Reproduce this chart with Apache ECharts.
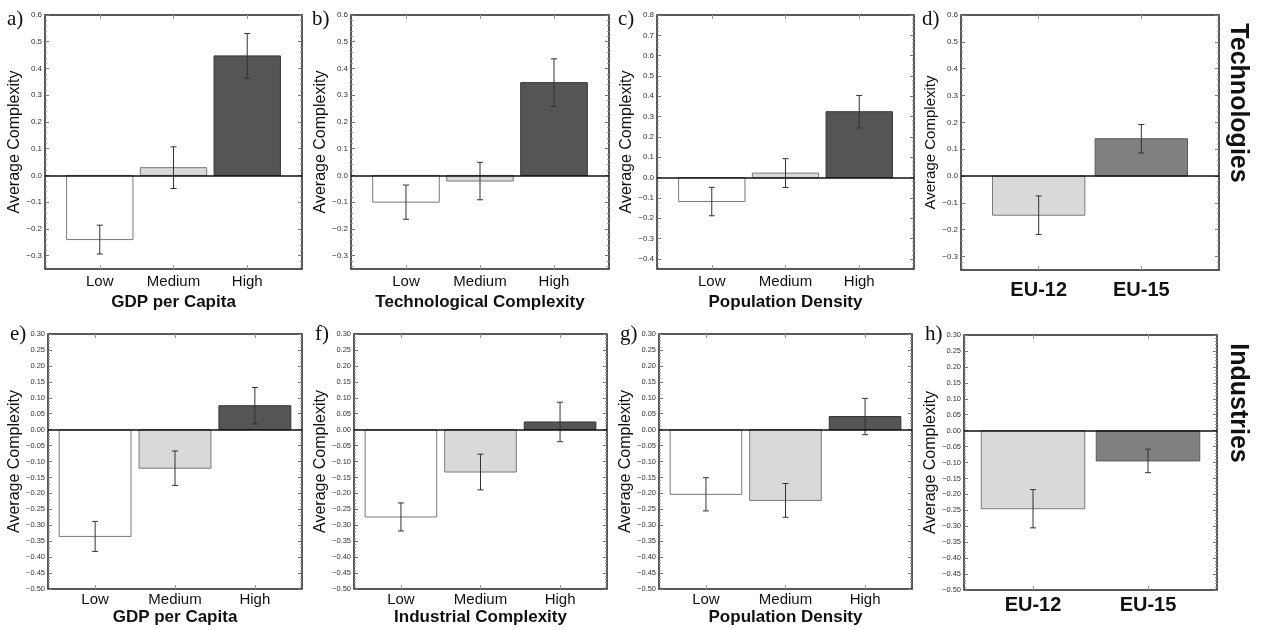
<!DOCTYPE html>
<html>
<head>
<meta charset="utf-8">
<script src="https://cdn.jsdelivr.net/npm/echarts@6/dist/echarts.min.js"></script>
<style>
  html, body { margin: 0; padding: 0; background: #fff; }
  #chart { width: 1262px; height: 630px; }
</style>
</head>
<body>
<div id="chart"></div>
<script>
// categories
var levels = ['Low', 'Medium', 'High'];
var regions = ['EU-12', 'EU-15'];

// technologies (top row): mean and error half-width
var techGdp = [-0.240, 0.029, 0.447];
var techGdpErr = [0.054, 0.078, 0.084];
var techComplexity = [-0.100, -0.021, 0.347];
var techComplexityErr = [0.064, 0.070, 0.089];
var techDensity = [-0.118, 0.022, 0.324];
var techDensityErr = [0.070, 0.071, 0.080];
var techRegion = [-0.146, 0.139];
var techRegionErr = [0.072, 0.053];

// industries (bottom row)
var indGdp = [-0.335, -0.121, 0.075];
var indGdpErr = [0.047, 0.054, 0.057];
var indComplexity = [-0.274, -0.133, 0.024];
var indComplexityErr = [0.044, 0.056, 0.062];
var indDensity = [-0.203, -0.222, 0.041];
var indDensityErr = [0.052, 0.053, 0.057];
var indRegion = [-0.245, -0.095];
var indRegionErr = [0.060, 0.037];

// y tick labels
var techTicks = [-0.3, -0.2, -0.1, 0, 0.1, 0.2, 0.3, 0.4, 0.5, 0.6];
var densityTicks = [-0.4, -0.3, -0.2, -0.1, 0, 0.1, 0.2, 0.3, 0.4, 0.5, 0.6, 0.7, 0.8];
var indTicks = [-0.5, -0.45, -0.4, -0.35, -0.3, -0.25, -0.2, -0.15, -0.1, -0.05,
                0, 0.05, 0.1, 0.15, 0.2, 0.25, 0.3];

var FONT = 'Liberation Sans, Arial, sans-serif';
var BAR_WIDTH = 0.9;
var CAP = 3;
var levelFills = ['#ffffff', '#d9d9d9', '#555555'];
var levelStrokes = ['#7a7a7a', '#7a7a7a', '#333333'];
var regionFills = ['#d9d9d9', '#808080'];
var regionStrokes = ['#7a7a7a', '#5a5a5a'];

var panels = [
  {tag: 'a)', cats: levels, vals: techGdp, errs: techGdpErr, title: 'GDP per Capita',
   box: [45, 15, 257, 254], x: [-0.743, 2.743], y: [-0.35, 0.6], ticks: techTicks, dec: 1, minor: 0.02, row: 0},
  {tag: 'b)', cats: levels, vals: techComplexity, errs: techComplexityErr, title: 'Technological Complexity',
   box: [351, 15, 258, 254], x: [-0.743, 2.743], y: [-0.35, 0.6], ticks: techTicks, dec: 1, minor: 0.02, row: 0},
  {tag: 'c)', cats: levels, vals: techDensity, errs: techDensityErr, title: 'Population Density',
   box: [657, 15, 257, 254], x: [-0.743, 2.743], y: [-0.45, 0.8], ticks: densityTicks, dec: 1, minor: 0.02, row: 0},
  {tag: 'd)', cats: regions, vals: techRegion, errs: techRegionErr, title: '',
   box: [961, 15, 258, 255], x: [-0.757, 1.757], y: [-0.35, 0.6], ticks: techTicks, dec: 1, minor: 0.02, row: 0},
  {tag: 'e)', cats: levels, vals: indGdp, errs: indGdpErr, title: 'GDP per Capita',
   box: [48, 334, 254, 255], x: [-0.59, 2.59], y: [-0.5, 0.3], ticks: indTicks, dec: 2, minor: 0.01, row: 1},
  {tag: 'f)', cats: levels, vals: indComplexity, errs: indComplexityErr, title: 'Industrial Complexity',
   box: [354, 334, 253, 255], x: [-0.59, 2.59], y: [-0.5, 0.3], ticks: indTicks, dec: 2, minor: 0.01, row: 1},
  {tag: 'g)', cats: levels, vals: indDensity, errs: indDensityErr, title: 'Population Density',
   box: [659, 334, 253, 255], x: [-0.59, 2.59], y: [-0.5, 0.3], ticks: indTicks, dec: 2, minor: 0.01, row: 1},
  {tag: 'h)', cats: regions, vals: indRegion, errs: indRegionErr, title: '',
   box: [964, 335, 253, 255], x: [-0.6, 1.6], y: [-0.5, 0.3], ticks: indTicks, dec: 2, minor: 0.01, row: 1}
];

function minorValues(p) {
  var out = [];
  var start = Math.ceil(p.y[0] / p.minor - 1e-6);
  for (var k = start; k * p.minor <= p.y[1] + 1e-9; k++) {
    var v = +(k * p.minor).toFixed(4);
    var isMajor = p.ticks.some(function (t) { return Math.abs(t - v) < 1e-6; });
    if (!isMajor) out.push(v);
  }
  return out;
}

function barRenderer(p) {
  var eu = p.cats.length === 2;
  var fills = eu ? regionFills : levelFills;
  var strokes = eu ? regionStrokes : levelStrokes;
  return function (params, api) {
    var x = api.value(0), v = api.value(1), e = api.value(2);
    var w = api.size([BAR_WIDTH, 0])[0];
    var base = api.coord([x, 0]);
    var end = api.coord([x, v]);
    var hi = api.coord([x, v + e]);
    var lo = api.coord([x, v - e]);
    var k = params.dataIndex;
    var err = {stroke: '#333', lineWidth: 1};
    return {
      type: 'group',
      children: [
        {type: 'rect', shape: {x: base[0] - w / 2, y: Math.min(base[1], end[1]), width: w, height: Math.abs(end[1] - base[1])},
         style: {fill: fills[k], stroke: strokes[k], lineWidth: 1}},
        {type: 'line', shape: {x1: hi[0], y1: hi[1], x2: lo[0], y2: lo[1]}, style: err},
        {type: 'line', shape: {x1: hi[0] - CAP, y1: hi[1], x2: hi[0] + CAP, y2: hi[1]}, style: err},
        {type: 'line', shape: {x1: lo[0] - CAP, y1: lo[1], x2: lo[0] + CAP, y2: lo[1]}, style: err}
      ]
    };
  };
}

var option = {
  animation: false,
  backgroundColor: '#fff',
  textStyle: {fontFamily: FONT},
  grid: [], xAxis: [], yAxis: [], series: [], graphic: []
};

panels.forEach(function (p, i) {
  var eu = p.cats.length === 2;
  var idx = p.cats.map(function (c, k) { return k; });
  option.grid.push({
    left: p.box[0], top: p.box[1], width: p.box[2], height: p.box[3],
    show: true, borderColor: '#222', borderWidth: 1.5, backgroundColor: '#fff',
    containLabel: false, outerBoundsMode: 'none'
  });

  var xi = option.xAxis.length;
  var xBase = {type: 'value', gridIndex: i, min: p.x[0], max: p.x[1],
               axisLine: {show: false, onZero: false}, splitLine: {show: false}};
  var labelMargin = eu ? (p.row === 0 ? 10 : 5) : (p.row === 0 ? 5.5 : 3.5);
  option.xAxis.push(Object.assign({}, xBase, {
    position: 'bottom',
    axisTick: {show: true, inside: true, length: 4, customValues: idx, lineStyle: {color: '#999'}},
    axisLabel: {show: true, customValues: idx, margin: labelMargin,
                formatter: function (v) { return p.cats[Math.round(v)]; },
                fontSize: eu ? 20 : 15, fontWeight: eu ? 'bold' : 'normal', color: '#111', fontFamily: FONT},
    name: p.title, nameLocation: 'middle', nameGap: p.row === 0 ? 25 : 20,
    nameTextStyle: {fontSize: 17, fontWeight: 'bold', color: '#111', fontFamily: FONT}
  }));
  option.xAxis.push(Object.assign({}, xBase, {
    position: 'top',
    axisTick: {show: true, inside: true, length: 4, customValues: idx, lineStyle: {color: '#999'}},
    axisLabel: {show: false}
  }));

  var yi = option.yAxis.length;
  var minors = minorValues(p);
  var yBase = {type: 'value', gridIndex: i, min: p.y[0], max: p.y[1],
               axisLine: {show: false, onZero: false}, splitLine: {show: false}};
  option.yAxis.push(Object.assign({}, yBase, {
    position: 'left',
    axisTick: {show: true, inside: true, length: 4, customValues: p.ticks, lineStyle: {color: '#777'}},
    axisLabel: {show: true, customValues: p.ticks, margin: 3, color: '#333',
                fontSize: p.row === 0 ? 8 : 7.5, fontFamily: FONT,
                formatter: function (v) { return (+v).toFixed(p.dec).replace('-', '\u2212'); }},
    name: 'Average Complexity', nameLocation: 'middle', nameRotate: 90,
    nameGap: p.row === 0 ? 20 : 24,
    nameTextStyle: {fontSize: i === 3 ? 15 : 16, color: '#111', fontFamily: FONT}
  }));
  option.yAxis.push(Object.assign({}, yBase, {
    position: 'left',
    axisTick: {show: true, inside: true, length: 2, customValues: minors, lineStyle: {color: '#999'}},
    axisLabel: {show: false}
  }));
  option.yAxis.push(Object.assign({}, yBase, {
    position: 'right',
    axisTick: {show: true, inside: true, length: 4, customValues: p.ticks, lineStyle: {color: '#777'}},
    axisLabel: {show: false}
  }));
  option.yAxis.push(Object.assign({}, yBase, {
    position: 'right',
    axisTick: {show: true, inside: true, length: 2, customValues: minors, lineStyle: {color: '#999'}},
    axisLabel: {show: false}
  }));

  option.series.push({
    type: 'custom',
    xAxisIndex: xi, yAxisIndex: yi,
    renderItem: barRenderer(p),
    encode: {x: 0, y: 1},
    data: p.vals.map(function (v, k) { return [k, v, p.errs[k]]; }),
    markLine: {
      silent: true, symbol: 'none', label: {show: false},
      lineStyle: {color: '#111', width: 1.5, type: 'solid'},
      data: [{yAxis: 0}]
    },
    z: 3
  });

  option.graphic.push({
    type: 'text', x: p.box[0] - (i % 4 === 0 ? 38 : 39), y: p.row === 0 ? 19 : 334,
    style: {text: p.tag, font: '21px Liberation Serif, Times New Roman, serif',
            fill: '#111', textAlign: 'left', textVerticalAlign: 'middle'}
  });
});

option.graphic.push({
  type: 'text', x: 1238, y: 103, rotation: -Math.PI / 2,
  style: {text: 'Technologies', font: 'bold 25px ' + FONT, fill: '#111',
          textAlign: 'center', textVerticalAlign: 'middle'}
});
option.graphic.push({
  type: 'text', x: 1238, y: 403, rotation: -Math.PI / 2,
  style: {text: 'Industries', font: 'bold 25px ' + FONT, fill: '#111',
          textAlign: 'center', textVerticalAlign: 'middle'}
});

var chart = echarts.init(document.getElementById('chart'), null, {renderer: 'canvas'});
chart.setOption(option);
</script>
</body>
</html>
